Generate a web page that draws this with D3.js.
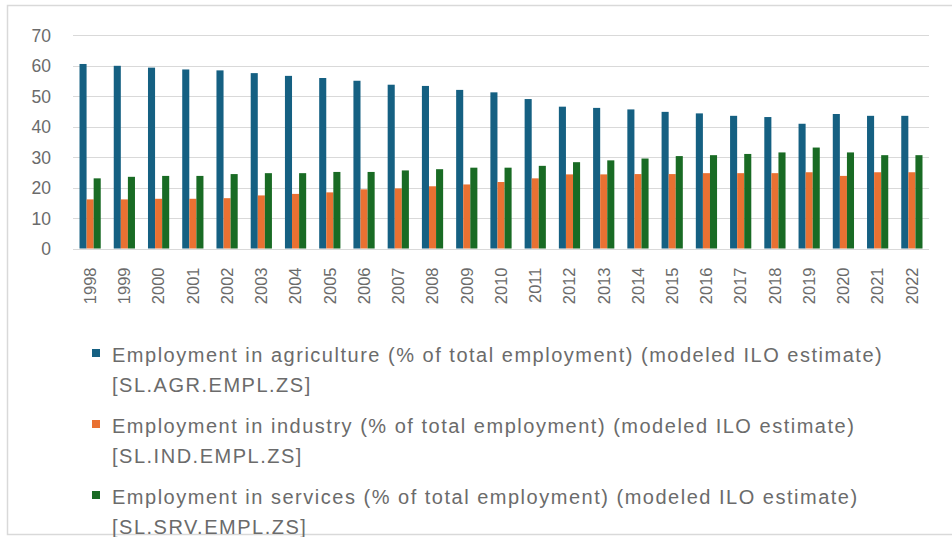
<!DOCTYPE html>
<html>
<head>
<meta charset="utf-8">
<script src="https://cdn.jsdelivr.net/npm/d3@7"></script>
<style>
  html, body { margin: 0; padding: 0; background: #ffffff; }
  svg { display: block; }
</style>
</head>
<body>
<svg id="chart" width="952" height="537"></svg>
<script>
// Employment by sector, share of total employment (%)
const years = ["1998","1999","2000","2001","2002","2003","2004","2005","2006","2007","2008","2009","2010","2011","2012","2013","2014","2015","2016","2017","2018","2019","2020","2021","2022"];
const agriculture = [60.5,59.9,59.3,58.7,58.4,57.5,56.6,55.9,55.0,53.7,53.3,52.0,51.2,49.0,46.5,46.1,45.6,44.8,44.3,43.5,43.1,40.9,44.1,43.5,43.5];
const industry    = [16.1,16.1,16.3,16.3,16.5,17.4,17.9,18.4,19.4,19.7,20.4,21.0,21.8,23.0,24.3,24.3,24.4,24.4,24.7,24.7,24.7,25.0,23.8,25.0,25.0];
const services    = [23.0,23.5,23.8,23.8,24.4,24.7,24.7,25.1,25.1,25.6,26.0,26.5,26.5,27.1,28.3,28.9,29.5,30.3,30.6,31.0,31.5,33.1,31.5,30.6,30.6];
const yTicks = [0,10,20,30,40,50,60,70];

const seriesNames = [
  ["Employment in agriculture (% of total employment) (modeled ILO estimate)", "[SL.AGR.EMPL.ZS]"],
  ["Employment in industry (% of total employment) (modeled ILO estimate)", "[SL.IND.EMPL.ZS]"],
  ["Employment in services (% of total employment) (modeled ILO estimate)", "[SL.SRV.EMPL.ZS]"]
];
const seriesKeys = ["agriculture", "industry", "services"];
const colors = ["#156082", "#E97132", "#196B24"];

const rows = years.map((y, i) => ({
  year: y,
  agriculture: agriculture[i],
  industry: industry[i],
  services: services[i]
}));

const svg = d3.select("#chart");
const font = "'Liberation Sans', Arial, sans-serif";
const textColor = "#6b6b6b";

// chart frame
svg.append("rect")
  .attr("x", 7.5).attr("y", 5.5)
  .attr("width", 960).attr("height", 529)
  .attr("fill", "#fff")
  .attr("stroke", "#d9d9d9").attr("stroke-width", 1.5);

const plot = { left: 73, right: 929, top: 35, bottom: 248.5 };

const x0 = d3.scaleBand()
  .domain(years)
  .range([plot.left, plot.right])
  .paddingInner(0.38)
  .paddingOuter(0.19);

const x1 = d3.scaleBand()
  .domain(seriesKeys)
  .range([0, x0.bandwidth()]);

const y = d3.scaleLinear()
  .domain([0, 70])
  .range([plot.bottom, plot.top]);

// horizontal gridlines
svg.append("g")
  .selectAll("line")
  .data(yTicks)
  .join("line")
  .attr("x1", plot.left).attr("x2", plot.right)
  .attr("y1", d => Math.round(y(d)) + 0.5)
  .attr("y2", d => Math.round(y(d)) + 0.5)
  .attr("stroke", "#d9d9d9")
  .attr("stroke-width", 1.2);

// y axis labels
const yAxis = svg.append("g")
  .attr("transform", `translate(${plot.left - 22},0)`)
  .call(d3.axisLeft(y).tickValues(yTicks).tickSize(0).tickPadding(0));
yAxis.select(".domain").remove();
yAxis.selectAll("text")
  .attr("font-family", font)
  .attr("font-size", 17.5)
  .attr("fill", textColor)
  .attr("dy", "0.36em");

// bars
svg.append("g")
  .selectAll("g")
  .data(rows)
  .join("g")
  .attr("transform", d => `translate(${x0(d.year)},0)`)
  .selectAll("rect")
  .data(d => seriesKeys.map((k, i) => ({ key: k, value: d[k], color: colors[i] })))
  .join("rect")
  .attr("x", d => x1(d.key))
  .attr("width", x1.bandwidth())
  .attr("y", d => y(d.value))
  .attr("height", d => y(0) - y(d.value))
  .attr("fill", d => d.color);

// x axis labels (rotated)
const xAxis = svg.append("g")
  .attr("transform", `translate(0,${plot.bottom + 19})`)
  .call(d3.axisBottom(x0).tickSize(0).tickPadding(0));
xAxis.select(".domain").remove();
xAxis.selectAll("text")
  .attr("font-family", font)
  .attr("font-size", 16.5)
  .attr("fill", textColor)
  .attr("transform", "rotate(-90)")
  .attr("text-anchor", "end")
  .attr("x", 0)
  .attr("y", 0)
  .attr("dy", "0.35em");

// legend
const legend = svg.append("g");
const legendTop = 362;
const entryStep = 71;
const lineStep = 30;
const textX = 112;
const targetWidth = 771;
const legendFontSize = 20;

seriesNames.forEach((lines, i) => {
  const g = legend.append("g").attr("transform", `translate(0,${legendTop + i * entryStep})`);
  g.append("rect")
    .attr("x", 92).attr("y", -13)
    .attr("width", 8).attr("height", 8)
    .attr("fill", colors[i]);
  lines.forEach((t, j) => {
    g.append("text")
      .attr("class", "legend-text")
      .attr("x", textX)
      .attr("y", j * lineStep)
      .attr("font-family", font)
      .attr("font-size", legendFontSize)
      .attr("fill", textColor)
      .text(t);
  });
});

// widen the letter spacing so the longest line spans the legend width
const first = legend.select(".legend-text");
const measured = first.node().getComputedTextLength();
const nChars = first.text().length;
const spacing = (targetWidth - measured) / nChars;
legend.selectAll(".legend-text").attr("letter-spacing", spacing.toFixed(2));
</script>
</body>
</html>
